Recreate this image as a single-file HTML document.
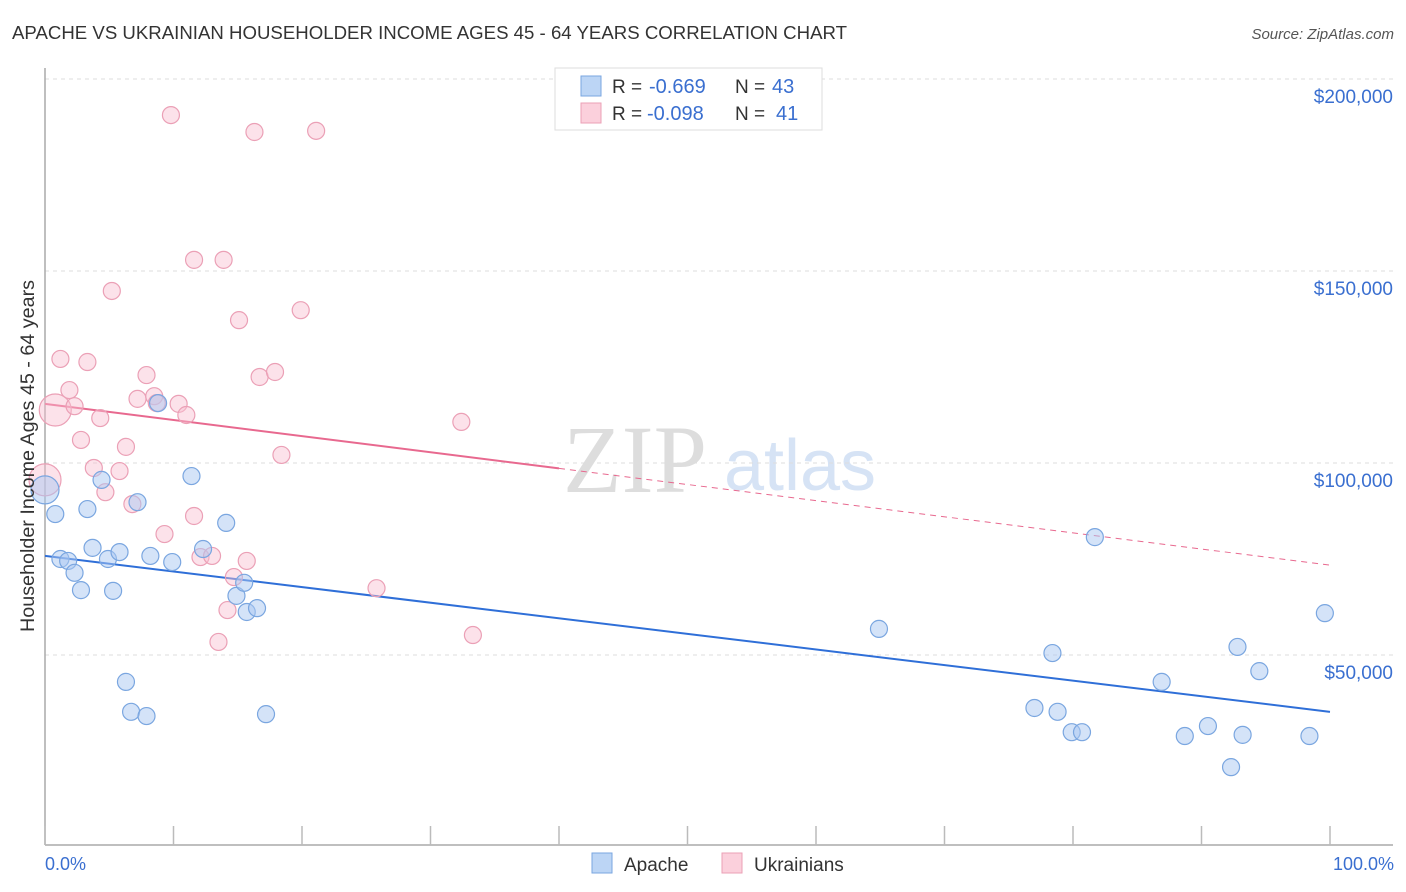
<!DOCTYPE html>
<html><head><meta charset="utf-8">
<style>
body{margin:0;background:#fff;font-family:"Liberation Sans",sans-serif;}
#wrap{position:relative;width:1406px;height:892px;overflow:hidden;}
</style></head>
<body>
<div id="wrap">
<svg id="chart" width="1406" height="892" xmlns="http://www.w3.org/2000/svg">
  <text x="12" y="39" font-size="18" fill="#333" textLength="835" lengthAdjust="spacingAndGlyphs">APACHE VS UKRAINIAN HOUSEHOLDER INCOME AGES 45 - 64 YEARS CORRELATION CHART</text>
  <text x="1394" y="39" font-size="15" fill="#555" font-style="italic" text-anchor="end">Source: ZipAtlas.com</text>
  <g>
    <text x="635" y="492" font-family="Liberation Serif,serif" font-size="96" fill="#ddd" text-anchor="middle">ZIP</text>
    <text x="800" y="490" font-size="72" fill="#d6e3f5" text-anchor="middle">atlas</text>
  </g>
  <g id="grid"></g>
  <g id="axes"></g>
  <g id="lines"></g>
  <g id="points"></g>
  <text transform="translate(34,456) rotate(-90)" font-size="19" fill="#333" text-anchor="middle" textLength="352" lengthAdjust="spacingAndGlyphs">Householder Income Ages 45 - 64 years</text>
  <text x="45" y="870" font-size="18" fill="#3a6fd0">0.0%</text>
  <text x="1394" y="870" font-size="18" fill="#3a6fd0" text-anchor="end">100.0%</text>
  <g>
    <rect x="555" y="68" width="267" height="62" fill="#fff" stroke="#ddd"/>
    <rect x="581" y="76" width="20" height="20" fill="#bcd5f5" stroke="#7aa6e0"/>
    <text x="612" y="93" font-size="19" fill="#333">R =</text>
    <text x="649" y="93" font-size="20" fill="#3a6fd0">-0.669</text>
    <text x="735" y="93" font-size="19" fill="#333">N =</text>
    <text x="772" y="93" font-size="20" fill="#3a6fd0">43</text>
    <rect x="581" y="103" width="20" height="20" fill="#fbd0dc" stroke="#eba0b6"/>
    <text x="612" y="120" font-size="19" fill="#333">R =</text>
    <text x="647" y="120" font-size="20" fill="#3a6fd0">-0.098</text>
    <text x="735" y="120" font-size="19" fill="#333">N =</text>
    <text x="776" y="120" font-size="20" fill="#3a6fd0">41</text>
  </g>
  <g>
    <rect x="592" y="853" width="20" height="20" fill="#bcd5f5" stroke="#7aa6e0"/>
    <text x="624" y="871" font-size="19" fill="#333">Apache</text>
    <rect x="722" y="853" width="20" height="20" fill="#fbd0dc" stroke="#eba0b6"/>
    <text x="754" y="871" font-size="19" fill="#333">Ukrainians</text>
  </g>
</svg>
</div>
<script>
const yTicks=[50000,100000,150000,200000];
const yTickLabels=["$50,000","$100,000","$150,000","$200,000"];
const xTicks=[0,10,20,30,40,50,60,70,80,90,100];
const apacheX=[0,0.8,1.2,1.8,2.3,2.8,3.3,3.7,4.4,4.9,5.3,5.8,6.3,6.7,7.2,7.9,8.2,8.8,9.9,11.4,12.3,14.1,14.9,15.5,15.7,16.5,17.2,64.9,77.0,78.4,78.8,79.9,80.7,81.7,86.9,88.7,90.5,92.3,92.8,93.2,94.5,98.4,99.6];
const apacheY=[93.0,86.7,75.0,74.5,71.4,66.9,88.0,77.9,95.6,75.0,66.7,76.8,43.0,35.2,89.8,34.1,75.8,115.6,74.2,96.6,77.6,84.4,65.4,68.8,61.2,62.2,34.6,56.8,36.2,50.5,35.2,29.9,29.9,80.7,43.0,28.9,31.5,20.8,52.1,29.2,45.8,28.9,60.9];
const ukrX=[0,0.8,1.2,1.9,2.3,2.8,3.3,3.8,4.3,4.7,5.2,5.8,6.3,6.8,7.2,7.9,8.5,8.7,9.3,9.8,10.4,11.0,11.6,11.6,12.1,13.0,13.5,13.9,14.2,14.7,15.1,15.7,16.3,16.7,17.9,18.4,19.9,21.1,25.8,32.4,33.3];
const ukrY=[95.6,113.8,127.1,119.0,114.8,106.0,126.3,98.7,111.7,92.4,144.8,97.9,104.2,89.3,116.7,122.9,117.4,115.6,81.5,190.6,115.4,112.5,86.2,152.9,75.5,75.8,53.4,152.9,61.7,70.3,137.2,74.5,186.2,122.4,123.7,102.1,139.8,186.5,67.4,110.7,55.2];
const ukrLarge=[1,1];
const apacheTrend=[75.8,35.2];
const ukrTrend=[115.4,73.4];
const ukrSolidEnd=40;

const NS="http://www.w3.org/2000/svg";
const X0=45,X1=1330,YB=847,PPK=3.84;
function sx(v){return X0+(X1-X0)*v/100;}
function sy(k){return YB-k*PPK;}
function mk(tag,attrs,parent){const e=document.createElementNS(NS,tag);for(const k in attrs)e.setAttribute(k,attrs[k]);parent.appendChild(e);return e;}

const grid=document.getElementById('grid');
yTicks.forEach((t,i)=>{
  const y=sy(t/1000);
  const l=mk('line',{x1:45,x2:1393,y1:y,y2:y,stroke:'#ddd','stroke-dasharray':'4,4'},grid);
  
  
  const tx=mk('text',{x:1393,y:y+24,'font-size':19,fill:'#3a6fd0','text-anchor':'end'},grid);
  tx.textContent=yTickLabels[i];
  
  
});
const axes=document.getElementById('axes');
const ya=mk('line',{x1:45,x2:45,y1:68,y2:845,stroke:'#aaa','stroke-width':1.5},axes);


const xa=mk('line',{x1:45,x2:1393,y1:845,y2:845,stroke:'#aaa','stroke-width':1.5},axes);


xTicks.forEach(t=>{
  const l=mk('line',{x1:sx(t),x2:sx(t),y1:826,y2:845,stroke:'#bbb','stroke-width':1.5},axes);
  
  
});

const lines=document.getElementById('lines');
function trend(a,b,x){return a+(b-a)*x/100;}
const bl=mk('line',{x1:sx(0),y1:sy(apacheTrend[0]),x2:sx(100),y2:sy(apacheTrend[1]),stroke:'#2f6fd8','stroke-width':2},lines);


const pl=mk('line',{x1:sx(0),y1:sy(ukrTrend[0]),x2:sx(ukrSolidEnd),y2:sy(trend(ukrTrend[0],ukrTrend[1],ukrSolidEnd)),stroke:'#e8698f','stroke-width':2},lines);


const pd=mk('line',{x1:sx(ukrSolidEnd),y1:sy(trend(ukrTrend[0],ukrTrend[1],ukrSolidEnd)),x2:sx(100),y2:sy(ukrTrend[1]),stroke:'#e8698f','stroke-width':1,'stroke-dasharray':'6,5'},lines);



const pts=document.getElementById('points');
ukrX.forEach((x,i)=>{
  const r=i<ukrLarge.length?16:8.5;
  const c=mk('circle',{cx:sx(x),cy:sy(ukrY[i]),r:r,fill:'rgba(248,190,208,0.45)',stroke:'#eba0b6','stroke-width':1.2},pts);
  
  
});
apacheX.forEach((x,i)=>{
  const r=i===0?14:8.5;
  const c=mk('circle',{cx:sx(x),cy:sy(apacheY[i]),r:r,fill:'rgba(170,200,242,0.5)',stroke:'#7aa6e0','stroke-width':1.2},pts);
  
  
});
</script>
</body></html>
